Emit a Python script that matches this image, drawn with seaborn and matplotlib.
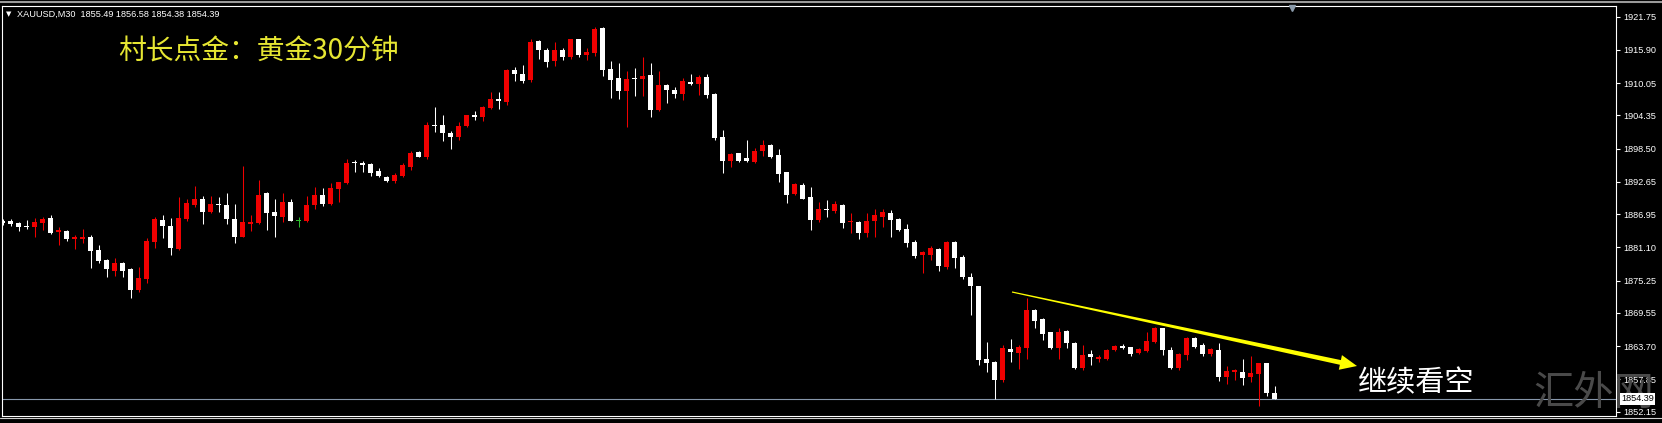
import numpy as np
import pandas as pd
import matplotlib.pyplot as plt
import matplotlib.transforms as mtransforms
from matplotlib.lines import Line2D
from matplotlib.patches import Polygon
import seaborn as sns

# XAUUSD M30 bars (oldest -> newest)
opens = [1885.7, 1885.8, 1885.4, 1884.9, 1884.7, 1885.4, 1886.2, 1883.8, 1884.0, 1882.5,
         1882.5, 1883.0, 1880.6, 1878.9, 1877.0, 1878.4, 1877.2, 1873.6, 1875.6, 1882.1,
         1885.9, 1884.9, 1880.8, 1886.1, 1888.6, 1889.6, 1887.3, 1888.7, 1888.6, 1886.1,
         1883.0, 1885.3, 1885.4, 1890.6, 1887.4, 1886.5, 1889.1, 1885.8, 1885.8, 1888.6,
         1890.3, 1888.7, 1891.4, 1892.5, 1896.1, 1895.9, 1895.7, 1894.6, 1893.5, 1892.8,
         1893.7, 1895.3, 1897.9, 1897.1, 1902.7, 1902.6, 1901.3, 1900.5, 1902.4, 1904.4,
         1904.1, 1905.6, 1907.2, 1906.7, 1912.3, 1911.6, 1910.6, 1917.5, 1915.9, 1914.0,
         1915.9, 1914.6, 1917.8, 1915.0, 1915.3, 1919.8, 1912.5, 1910.9, 1908.7, 1911.0,
         1910.7, 1911.5, 1905.3, 1909.7, 1908.9, 1908.1, 1910.2, 1909.9, 1911.1, 1908.1,
         1900.6, 1896.3, 1897.7, 1896.8, 1896.2, 1898.0, 1899.1, 1897.3, 1894.3, 1890.5,
         1892.1, 1890.0, 1886.0, 1887.9, 1887.5, 1888.6, 1885.5, 1885.6, 1883.6, 1885.8,
         1886.5, 1887.2, 1886.1, 1884.3, 1882.1, 1879.8, 1879.8, 1880.8, 1877.7, 1882.1,
         1879.4, 1875.9, 1874.2, 1861.4, 1860.9, 1857.7, 1863.2, 1862.5, 1863.3, 1870.1,
         1868.4, 1866.1, 1863.3, 1866.4, 1864.3, 1859.8, 1862.3, 1861.4, 1861.4, 1863.0,
         1863.7, 1863.5, 1862.4, 1862.9, 1864.4, 1866.8, 1863.0, 1859.8, 1862.1, 1865.1,
         1863.9, 1862.3, 1863.0, 1858.3, 1859.2, 1859.1, 1858.2, 1858.7, 1860.7, 1855.49]
highs = [1886.1, 1886.1, 1885.6, 1885.9, 1886.2, 1886.4, 1886.8, 1884.6, 1884.2, 1883.3,
         1884.3, 1883.3, 1881.5, 1879.0, 1879.3, 1878.6, 1877.5, 1877.7, 1882.7, 1886.4,
         1886.8, 1886.3, 1890.0, 1889.7, 1891.9, 1890.1, 1890.2, 1889.9, 1890.7, 1888.7,
         1895.4, 1886.8, 1893.0, 1890.8, 1889.6, 1890.6, 1889.6, 1886.5, 1890.2, 1891.8,
         1891.6, 1892.5, 1892.7, 1896.7, 1896.5, 1896.3, 1895.9, 1895.1, 1893.7, 1894.2,
         1895.9, 1898.1, 1898.0, 1903.2, 1905.8, 1904.5, 1901.6, 1903.1, 1904.5, 1905.2,
         1906.0, 1908.4, 1908.4, 1912.5, 1912.8, 1913.2, 1917.8, 1917.6, 1916.2, 1917.2,
         1916.3, 1917.9, 1917.9, 1916.2, 1919.9, 1920.0, 1913.9, 1913.6, 1912.1, 1912.7,
         1914.6, 1913.5, 1912.2, 1909.8, 1909.3, 1910.9, 1911.6, 1911.5, 1911.6, 1908.3,
         1901.8, 1897.8, 1897.8, 1900.0, 1898.6, 1900.1, 1899.3, 1898.4, 1894.4, 1892.4,
         1892.5, 1891.8, 1889.1, 1889.4, 1889.3, 1888.7, 1887.1, 1885.7, 1887.2, 1887.8,
         1887.8, 1887.6, 1886.2, 1885.3, 1882.4, 1880.5, 1881.3, 1881.0, 1882.3, 1882.3,
         1879.8, 1876.6, 1874.3, 1864.5, 1861.1, 1863.9, 1864.9, 1863.9, 1872.1, 1870.2,
         1868.6, 1866.2, 1866.8, 1866.5, 1864.5, 1863.9, 1863.0, 1862.1, 1863.1, 1863.9,
         1864.1, 1863.6, 1863.3, 1866.1, 1867.1, 1866.9, 1863.6, 1862.4, 1865.3, 1865.3,
         1864.2, 1863.3, 1864.3, 1860.2, 1859.6, 1861.5, 1862.0, 1860.8, 1860.8, 1856.58]
lows = [1885.0, 1884.9, 1884.0, 1884.3, 1882.9, 1884.2, 1883.4, 1881.5, 1882.2, 1880.8,
        1881.8, 1877.4, 1878.4, 1875.8, 1876.0, 1875.9, 1872.1, 1873.3, 1874.9, 1880.9,
        1882.7, 1879.8, 1880.6, 1885.8, 1888.2, 1885.3, 1887.1, 1887.4, 1885.2, 1881.8,
        1882.9, 1883.9, 1885.3, 1884.2, 1883.0, 1885.6, 1885.7, 1884.7, 1885.6, 1887.8,
        1888.3, 1888.6, 1889.1, 1892.3, 1894.3, 1894.4, 1893.7, 1893.5, 1892.7, 1892.5,
        1893.5, 1894.7, 1897.0, 1896.6, 1901.5, 1899.9, 1898.4, 1900.1, 1902.3, 1903.5,
        1903.4, 1905.4, 1905.5, 1906.1, 1910.4, 1910.0, 1910.2, 1914.3, 1912.9, 1913.1,
        1914.2, 1914.3, 1914.6, 1914.2, 1914.9, 1911.3, 1907.5, 1907.2, 1902.3, 1907.8,
        1907.8, 1904.1, 1905.1, 1906.6, 1907.4, 1907.1, 1909.7, 1907.9, 1907.4, 1900.0,
        1894.2, 1895.3, 1896.2, 1896.2, 1895.9, 1897.2, 1896.8, 1892.7, 1889.0, 1890.3,
        1889.6, 1884.2, 1885.6, 1886.5, 1887.2, 1884.5, 1883.6, 1882.5, 1883.0, 1883.0,
        1884.7, 1883.0, 1884.0, 1881.1, 1879.3, 1876.6, 1878.9, 1877.0, 1877.2, 1877.4,
        1875.6, 1869.2, 1860.4, 1859.2, 1854.3, 1857.4, 1860.9, 1859.6, 1861.4, 1866.8,
        1864.8, 1863.1, 1861.4, 1863.3, 1859.6, 1859.5, 1860.4, 1860.9, 1861.3, 1862.9,
        1863.1, 1862.0, 1862.3, 1862.7, 1864.2, 1862.1, 1859.6, 1859.5, 1861.2, 1863.3,
        1862.0, 1862.0, 1857.5, 1857.1, 1857.7, 1856.8, 1857.4, 1853.1, 1854.9, 1854.38]
closes = [1885.4, 1885.3, 1884.7, 1884.6, 1885.6, 1886.1, 1883.7, 1884.2, 1882.5, 1882.9,
          1883.0, 1880.5, 1878.7, 1877.2, 1878.4, 1877.0, 1873.5, 1875.7, 1882.3, 1886.1,
          1884.9, 1881.0, 1886.2, 1888.9, 1889.6, 1887.4, 1888.7, 1888.5, 1886.1, 1883.0,
          1885.6, 1885.6, 1890.3, 1887.2, 1886.7, 1889.1, 1885.8, 1885.8, 1888.6, 1890.3,
          1888.7, 1891.6, 1892.6, 1896.0, 1895.9, 1895.6, 1894.2, 1893.6, 1892.8, 1893.9,
          1895.6, 1897.8, 1897.1, 1902.7, 1902.4, 1901.2, 1900.6, 1902.5, 1904.4, 1904.1,
          1905.9, 1907.2, 1906.9, 1912.3, 1911.6, 1910.4, 1917.3, 1915.8, 1913.8, 1915.9,
          1914.7, 1917.8, 1915.0, 1915.6, 1919.6, 1912.3, 1910.6, 1908.7, 1910.7, 1910.8,
          1911.3, 1905.3, 1909.7, 1908.8, 1908.1, 1910.4, 1909.9, 1911.2, 1907.9, 1900.3,
          1896.3, 1897.5, 1896.3, 1896.3, 1898.1, 1899.1, 1897.1, 1894.0, 1890.3, 1892.2,
          1889.7, 1885.9, 1887.8, 1887.6, 1888.7, 1885.4, 1885.7, 1883.6, 1885.8, 1886.8,
          1887.4, 1886.0, 1884.2, 1881.9, 1879.6, 1880.2, 1880.9, 1877.8, 1882.1, 1879.2,
          1875.8, 1874.2, 1861.2, 1860.8, 1857.7, 1863.3, 1862.7, 1863.6, 1870.1, 1868.2,
          1865.8, 1863.3, 1866.1, 1864.2, 1859.8, 1862.1, 1861.7, 1861.7, 1863.0, 1863.7,
          1863.4, 1862.3, 1863.1, 1864.6, 1866.8, 1863.0, 1859.8, 1862.3, 1865.2, 1863.6,
          1862.3, 1863.1, 1858.2, 1859.3, 1859.5, 1858.0, 1858.9, 1860.7, 1855.4, 1854.39]

price_ticks = [1921.75, 1915.90, 1910.05, 1904.35, 1898.50, 1892.65, 1886.95,
               1881.10, 1875.25, 1869.55, 1863.70, 1857.85, 1852.15]
symbol = "XAUUSD,M30"
title_cn = "村长点金：黄金30分钟"
call_cn = "继续看空"
mark_cn = "汇外网"

sns.set_theme(style="dark", rc={"axes.facecolor": "black", "figure.facecolor": "black",
                                "savefig.facecolor": "black"})
plt.rcParams['font.family'] = ['Liberation Sans', 'DejaVu Sans']
cjk = ['Noto Sans CJK SC', 'DejaVu Sans']

df = pd.DataFrame({"open": opens, "high": highs, "low": lows, "close": closes})
df["bar"] = np.arange(len(df))
df["color"] = np.where(df.close > df.open, "#f00000",
                       np.where(df.close < df.open, "#ffffff", "#2fbf2f"))

W, H = 1662, 423
fig = plt.figure(figsize=(W / 100, H / 100), dpi=100)
ax = fig.add_axes([1.5 / W, 1 - 415.7 / H, (1616 - 1.5) / W, (415.7 - 6) / H])
ax.set_facecolor("black")

# candles: wicks + bodies
ax.vlines(df.bar, df.low, df.high, colors=df.color, lw=0.75, zorder=2)
body_lo = df[["open", "close"]].min(axis=1)
body_h = (df.close - df.open).abs().clip(lower=0.18)
ax.bar(df.bar, body_h, bottom=body_lo, width=0.625, color=df.color, linewidth=0, zorder=3)

ax.axhline(closes[-1], color="#8797ab", lw=0.8, zorder=1)

ax.set_xlim(-0.15, 201.66)
ax.set_ylim(1851.43, 1923.63)
ax.set_xticks([])
ax.yaxis.tick_right()
ax.set_yticks(price_ticks)
ax.set_yticklabels([f"{v:.2f}" for v in price_ticks])
ax.tick_params(axis='y', colors='white', labelsize=6.6, length=3, width=0.8, pad=2,
               direction='out', right=True, left=False)
ax.grid(False)
for s in ax.spines.values():
    s.set_visible(True)
    s.set_color('white')
    s.set_linewidth(0.8)

# yellow trend arrow (tapered)
p0 = np.array([1012.0, 292.0])
p1 = np.array([1357.0, 366.0])
u = (p1 - p0) / np.linalg.norm(p1 - p0)
n = np.array([-u[1], u[0]])
base = p1 - u * 17
pts = [p0 + n * 0.6, base + n * 2.4, base + n * 7.5, p1, base - n * 7.5, base - n * 2.4, p0 - n * 0.6]
pts = [(x / W, 1 - y / H) for x, y in pts]
fig.add_artist(Polygon(pts, closed=True, transform=fig.transFigure,
                       facecolor='#ffff00', edgecolor='none', zorder=3))

# texts
fig.text(6 / W, 1 - 14.3 / H, "▼", fontsize=5, color='white', va='center', family=['DejaVu Sans'])
fig.text(17 / W, 1 - 14.3 / H,
         f"{symbol}  {opens[-1]:.2f} {highs[-1]:.2f} {lows[-1]:.2f} {closes[-1]:.2f}",
         fontsize=6.6, color='white', va='center')
fig.text(118 / W, 1 - 51.7 / H, title_cn, fontsize=20, color='#e6e632', va='center',
         family=cjk, fontweight='light')
fig.text(1358 / W, 1 - 383 / H, call_cn, fontsize=21, color='white', va='center', family=cjk)
fig.text(1533 / W, 1 - 393 / H, mark_cn, fontsize=29, color='#4a4a4a', va='center',
         family=cjk, fontweight='light', zorder=3)

trans = mtransforms.blended_transform_factory(fig.transFigure, ax.transData)
fig.text(1621 / W, closes[-1], f"{closes[-1]:.2f}", transform=trans, fontsize=6.6,
         color='black', va='center', ha='left', zorder=4,
         bbox=dict(boxstyle='square,pad=0.15', fc='white', ec='none'))

# terminal window frame bits
fig.add_artist(Line2D([0, 1], [1 - 2 / H] * 2, color='#9a9a9a', lw=1.5, transform=fig.transFigure))
fig.add_artist(Line2D([0, 1], [1 - 418 / H] * 2, color='#d0d0d0', lw=0.8, transform=fig.transFigure))
fig.add_artist(Line2D([1292 / W], [1 - 8 / H], marker='v', ms=5, color='#8a9aaa',
                      linestyle='none', transform=fig.transFigure))

fig.savefig('out.png', dpi=100, facecolor='black')
